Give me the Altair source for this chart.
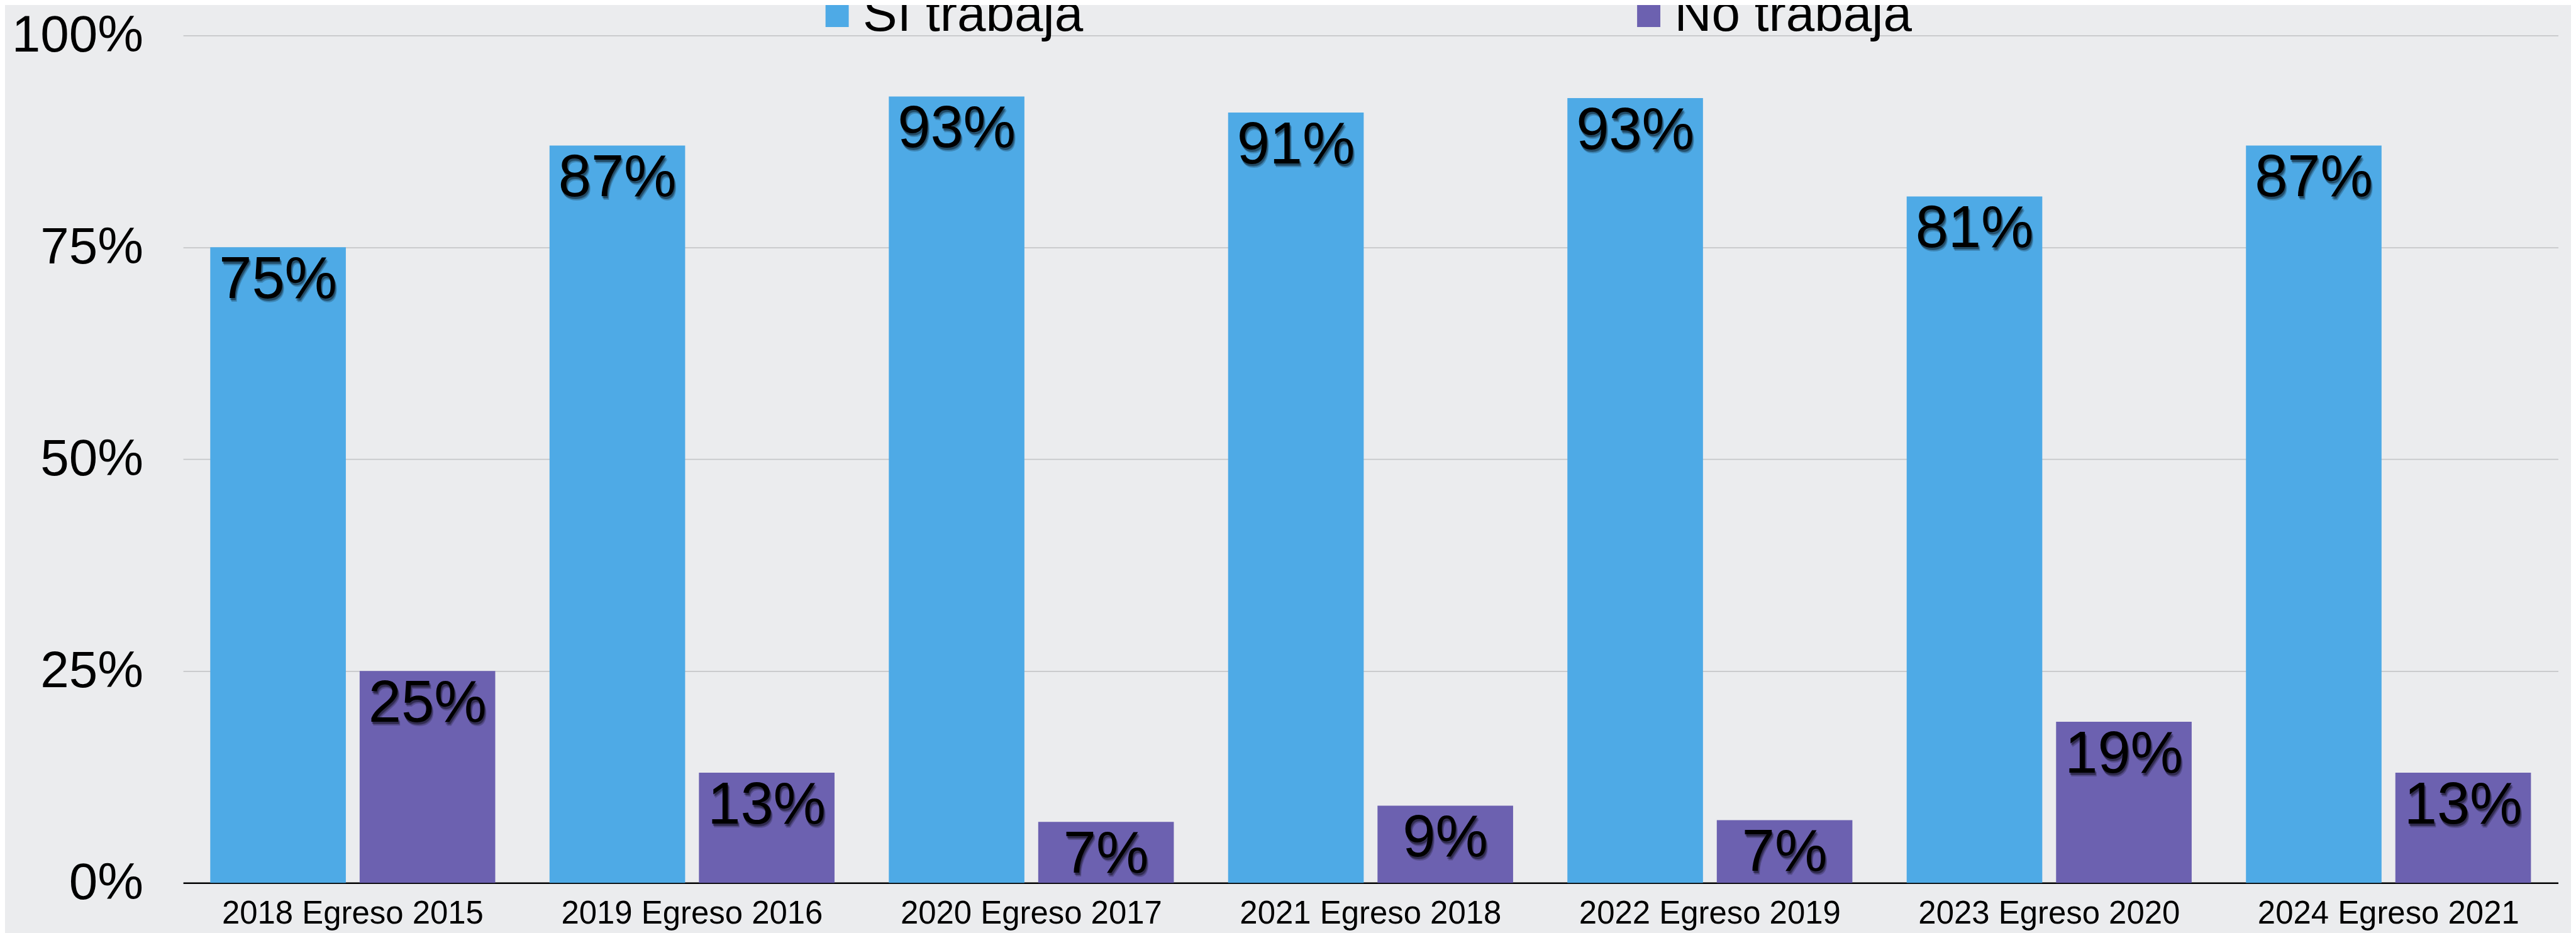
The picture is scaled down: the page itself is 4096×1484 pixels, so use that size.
import altair as alt
import pandas as pd

categories = ["2018 Egreso 2015", "2019 Egreso 2016", "2020 Egreso 2017", "2021 Egreso 2018",
              "2022 Egreso 2019", "2023 Egreso 2020", "2024 Egreso 2021"]
si_trabaja = [75.0, 87.0, 92.8, 90.9, 92.6, 81.0, 87.0]
no_trabaja = [25.0, 13.0, 7.2, 9.1, 7.4, 19.0, 13.0]
series = ["Sí trabaja", "No trabaja"]
colors = ["#4EAAE6", "#6C61B0"]
y_ticks = [0, 25, 50, 75, 100]

rows = []
for c, s, n in zip(categories, si_trabaja, no_trabaja):
    rows.append({"cat": c, "serie": series[0], "valor": s, "etiqueta": f"{round(s)}%"})
    rows.append({"cat": c, "serie": series[1], "valor": n, "etiqueta": f"{round(n)}%"})
df = pd.DataFrame(rows)

FONT = "Liberation Sans"

x = alt.X("cat:N", sort=categories,
          scale=alt.Scale(paddingInner=0.16, paddingOuter=0.08),
          axis=alt.Axis(title=None, labelAngle=0, labelFontSize=51, labelFont=FONT,
                        labelColor="black", labelPadding=64.5, labelBaseline="alphabetic",
                        ticks=False, tickSize=0, domainColor="black", domainWidth=2.5,
                        grid=False, labelLimit=1000, labelOverlap=False))
xo = alt.XOffset("serie:N", sort=series, scale=alt.Scale(paddingInner=0.0924, paddingOuter=0))
y = alt.Y("valor:Q", scale=alt.Scale(domain=[0, 100], nice=False),
          axis=alt.Axis(title=None, values=y_ticks, labelExpr="datum.value + '%'",
                        labelFontSize=82, labelFont=FONT, labelColor="black",
                        labelPadding=63.7, ticks=False, tickSize=0, domain=False,
                        gridColor="#C6C7C9", gridWidth=1.7, labelBaseline="middle",
                        labelLimit=1000, labelOverlap=False))
color = alt.Color("serie:N", sort=series,
                  scale=alt.Scale(domain=series, range=colors),
                  legend=alt.Legend(orient="none", legendX=1001, legendY=-73,
                                    direction="horizontal", title=None,
                                    symbolType="square", symbolSize=1369,
                                    symbolStrokeWidth=0, symbolOpacity=1,
                                    labelFontSize=82, labelFont=FONT, labelColor="black",
                                    labelOffset=0, columnPadding=860, padding=0,
                                    labelLimit=1000))

base = alt.Chart(df).encode(x=x, xOffset=xo, y=y)
bars = base.mark_bar().encode(color=color)

layers = [bars]
for ddx, ddy, op in [(1, 3, 0.25), (2, 4, 0.25), (3, 6, 0.2)]:
    layers.append(base.mark_text(align="center", baseline="alphabetic", dx=ddx, dy=81 + ddy,
                                 fontSize=94, font=FONT, color="black", opacity=op)
                  .encode(text="etiqueta:N"))
layers.append(base.mark_text(align="center", baseline="alphabetic", dy=81,
                             fontSize=94, font=FONT, color="black")
              .encode(text="etiqueta:N"))

chart = alt.layer(*layers).properties(
    width=3783.8, height=1350.5,
    padding={"left": 283.7, "top": 47, "right": 20.5, "bottom": 78.5},
    autosize=alt.AutoSizeParams(type="none"),
    background="#EBECEE",
).configure_view(stroke=None)

chart.save("out.html", embed_options={"renderer": "svg", "actions": False})
